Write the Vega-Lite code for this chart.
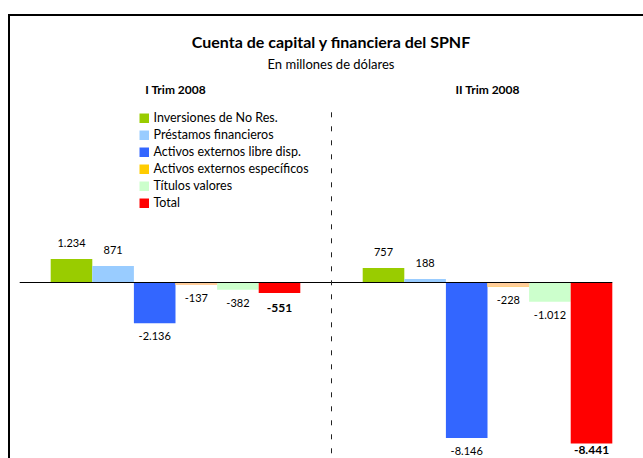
{
  "$schema": "https://vega.github.io/schema/vega-lite/v6.json",
  "width": 634,
  "height": 443,
  "autosize": {"type": "none"},
  "padding": {"left": 9, "top": 15, "right": 0, "bottom": 0},
  "background": "white",
  "config": {
    "font": "Lato",
    "view": {"stroke": "black", "strokeWidth": 2, "strokeDash": [634, 1077, 443]},
    "locale": {"number": {"decimal": ",", "thousands": ".", "grouping": [3], "currency": ["", ""], "minus": "-"}}
  },
  "title": {
    "text": "Cuenta de capital y financiera del SPNF",
    "subtitle": "En millones de dólares",
    "font": "Lato",
    "subtitleFont": "Lato",
    "fontSize": 16,
    "fontWeight": "bold",
    "subtitleFontSize": 13,
    "color": "black",
    "subtitleColor": "black",
    "anchor": "middle",
    "frame": "group",
    "offset": -57,
    "subtitlePadding": 8,
    "dx": 5
  },
  "data": {
    "values": [
      {"quarter": "I Trim 2008", "category": "Inversiones de No Res.", "value": 1234},
      {"quarter": "I Trim 2008", "category": "Préstamos financieros", "value": 871},
      {"quarter": "I Trim 2008", "category": "Activos externos libre disp.", "value": -2136},
      {"quarter": "I Trim 2008", "category": "Activos externos específicos", "value": -137},
      {"quarter": "I Trim 2008", "category": "Títulos valores", "value": -382},
      {"quarter": "I Trim 2008", "category": "Total", "value": -551},
      {"quarter": "II Trim 2008", "category": "Inversiones de No Res.", "value": 757},
      {"quarter": "II Trim 2008", "category": "Préstamos financieros", "value": 188},
      {"quarter": "II Trim 2008", "category": "Activos externos libre disp.", "value": -8146},
      {"quarter": "II Trim 2008", "category": "Activos externos específicos", "value": -228},
      {"quarter": "II Trim 2008", "category": "Títulos valores", "value": -1012},
      {"quarter": "II Trim 2008", "category": "Total", "value": -8441}
    ]
  },
  "resolve": {"scale": {"x": "shared", "y": "shared"}},
  "layer": [
    {
      "mark": {"type": "bar"},
      "encoding": {
        "x": {
          "field": "quarter", "type": "nominal",
          "scale": {"type": "band", "domain": ["I Trim 2008", "II Trim 2008"], "paddingInner": 0.2, "paddingOuter": 0.116, "align": 0.576},
          "axis": {"orient": "top", "offset": -81, "domain": false, "ticks": false, "labelPadding": 0, "labelAngle": 0, "labelFontWeight": "bold", "labelFontSize": 12, "labelColor": "black", "title": null, "labelFont": "Lato"}
        },
        "xOffset": {
          "field": "category", "type": "nominal",
          "scale": {"domain": ["Inversiones de No Res.", "Préstamos financieros", "Activos externos libre disp.", "Activos externos específicos", "Títulos valores", "Total"], "paddingInner": 0, "paddingOuter": 0}
        },
        "y": {
          "field": "value", "type": "quantitative",
          "scale": {"domain": [-9196, 14017], "nice": false, "zero": false},
          "axis": null
        },
        "color": {
          "field": "category", "type": "nominal",
          "scale": {
            "domain": ["Inversiones de No Res.", "Préstamos financieros", "Activos externos libre disp.", "Activos externos específicos", "Títulos valores", "Total"],
            "range": ["#99CC00", "#99CCFF", "#3366FF", "#FFCC00", "#CCFFCC", "#FF0000"]
          },
          "legend": {
            "title": null, "orient": "none", "legendX": 129, "legendY": 97,
            "symbolType": "square", "symbolSize": 90, "symbolStrokeWidth": 0,
            "labelFontSize": 12.5, "labelFont": "Lato", "labelColor": "black", "labelOffset": 3,
            "rowPadding": 4, "padding": 0, "labelLimit": 300
          }
        }
      }
    },
    {
      "transform": [{"filter": "datum.category === 'Activos externos específicos'"}],
      "mark": {"type": "bar", "color": "#FFCC99"},
      "encoding": {
        "x": {"field": "quarter", "type": "nominal"},
        "xOffset": {"field": "category", "type": "nominal"},
        "y": {"field": "value", "type": "quantitative"}
      }
    },
    {
      "data": {"values": [{"v": 0}]},
      "mark": {"type": "rule", "color": "black", "strokeWidth": 1, "xOffset": -31},
      "encoding": {
        "x": {"datum": "I Trim 2008", "bandPosition": 0},
        "x2": {"datum": "II Trim 2008", "bandPosition": 1},
        "y": {"field": "v", "type": "quantitative"}
      }
    },
    {
      "data": {"values": [{"top": 8918, "bottom": -9196}]},
      "mark": {"type": "rule", "color": "#222222", "strokeWidth": 1, "strokeDash": [5, 9], "xOffset": -31.2},
      "encoding": {
        "x": {"datum": "II Trim 2008", "bandPosition": 0},
        "y": {"field": "top", "type": "quantitative"},
        "y2": {"field": "bottom"}
      }
    },
    {
      "transform": [{"filter": "datum.value >= 0"}],
      "mark": {"type": "text", "dy": -15, "fontSize": 11, "baseline": "middle", "color": "black"},
      "encoding": {
        "x": {"field": "quarter", "type": "nominal"},
        "xOffset": {"field": "category", "type": "nominal"},
        "y": {"field": "value", "type": "quantitative"},
        "text": {"field": "value", "type": "quantitative", "format": ",.0f"}
      }
    },
    {
      "transform": [{"filter": "datum.value < 0 && datum.category !== 'Total'"}],
      "mark": {"type": "text", "dy": 14, "fontSize": 11, "baseline": "middle", "color": "black"},
      "encoding": {
        "x": {"field": "quarter", "type": "nominal"},
        "xOffset": {"field": "category", "type": "nominal"},
        "y": {"field": "value", "type": "quantitative"},
        "text": {"field": "value", "type": "quantitative", "format": ",.0f"}
      }
    },
    {
      "transform": [{"filter": "datum.category === 'Total' && datum.value > -5000"}],
      "mark": {"type": "text", "dy": 15, "fontSize": 12, "fontWeight": "bold", "baseline": "middle", "color": "black"},
      "encoding": {
        "x": {"field": "quarter", "type": "nominal"},
        "xOffset": {"field": "category", "type": "nominal"},
        "y": {"field": "value", "type": "quantitative"},
        "text": {"field": "value", "type": "quantitative", "format": ",.0f"}
      }
    },
    {
      "transform": [{"filter": "datum.category === 'Total' && datum.value <= -5000"}],
      "mark": {"type": "text", "dy": 6.5, "fontSize": 12, "fontWeight": "bold", "baseline": "middle", "color": "black"},
      "encoding": {
        "x": {"field": "quarter", "type": "nominal"},
        "xOffset": {"field": "category", "type": "nominal"},
        "y": {"field": "value", "type": "quantitative"},
        "text": {"field": "value", "type": "quantitative", "format": ",.0f"}
      }
    }
  ]
}
